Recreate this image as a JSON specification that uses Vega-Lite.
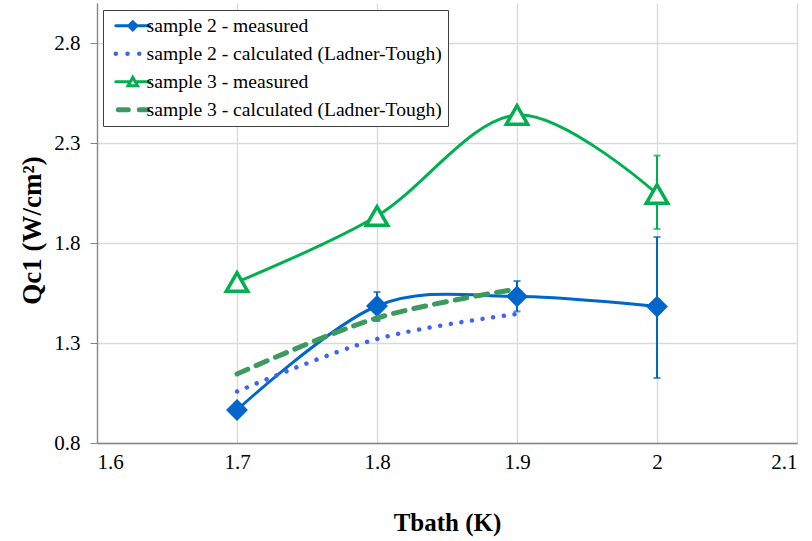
{
  "$schema": "https://vega.github.io/schema/vega-lite/v6.json",
  "width": 700,
  "height": 440,
  "autosize": {"type": "none"},
  "padding": {"left": 97, "top": 3, "right": 15, "bottom": 98},
  "background": "white",
  "config": {
    "view": {"stroke": null},
    "font": "Liberation Serif",
    "axis": {"labelFont": "Liberation Serif", "titleFont": "Liberation Serif", "labelColor": "#000", "titleColor": "#000", "gridColor": "#D9D9D9", "gridWidth": 1.3, "domainColor": "#868686", "domainWidth": 1.3, "tickColor": "#868686"}
  },
  "datasets": {
    "pts": [
      {"series": "sample 2 - measured", "T": 1.7, "Q": 0.965, "lo": null, "hi": null},
      {"series": "sample 2 - measured", "T": 1.8, "Q": 1.485, "lo": 1.41, "hi": 1.555},
      {"series": "sample 2 - measured", "T": 1.9, "Q": 1.533, "lo": 1.458, "hi": 1.61},
      {"series": "sample 2 - measured", "T": 2.0, "Q": 1.482, "lo": 1.125, "hi": 1.83},
      {"series": "sample 2 - calculated (Ladner-Tough)", "T": 1.7, "Q": 1.057, "lo": null, "hi": null},
      {"series": "sample 2 - calculated (Ladner-Tough)", "T": 1.8, "Q": 1.32, "lo": null, "hi": null},
      {"series": "sample 2 - calculated (Ladner-Tough)", "T": 1.9, "Q": 1.445, "lo": null, "hi": null},
      {"series": "sample 3 - measured", "T": 1.7, "Q": 1.605, "lo": null, "hi": null},
      {"series": "sample 3 - measured", "T": 1.8, "Q": 1.935, "lo": null, "hi": null},
      {"series": "sample 3 - measured", "T": 1.9, "Q": 2.44, "lo": null, "hi": null},
      {"series": "sample 3 - measured", "T": 2.0, "Q": 2.045, "lo": 1.87, "hi": 2.237},
      {"series": "sample 3 - calculated (Ladner-Tough)", "T": 1.7, "Q": 1.145, "lo": null, "hi": null},
      {"series": "sample 3 - calculated (Ladner-Tough)", "T": 1.8, "Q": 1.425, "lo": null, "hi": null},
      {"series": "sample 3 - calculated (Ladner-Tough)", "T": 1.9, "Q": 1.57, "lo": null, "hi": null}
    ]
  },
  "data": {"name": "pts"},
  "encoding": {
    "x": {"field": "T", "type": "quantitative", "scale": {"domain": [1.6, 2.1], "nice": false, "zero": false},
      "axis": {"values": [1.6, 1.7, 1.8, 1.9, 2.0, 2.1], "format": "~g", "ticks": false, "labelFontSize": 21, "labelPadding": 8, "title": "Tbath (K)", "titleFontSize": 25, "titleFontWeight": "bold", "titleX": 350, "titleY": 79, "titleBaseline": "middle", "titleAlign": "center"}},
    "y": {"field": "Q", "type": "quantitative", "scale": {"domain": [0.8, 3.0], "nice": false, "zero": false},
      "axis": {"values": [0.8, 1.3, 1.8, 2.3, 2.8], "format": ".1f", "tickSize": 7, "labelFontSize": 21, "labelPadding": 10, "title": "Qc1 (W/cm²)", "titleFontSize": 27, "titleFontWeight": "bold", "titleX": -65, "titleY": 227, "titleBaseline": "middle", "titleAlign": "center", "titleAngle": -90}}
  },
  "layer": [
    {
      "transform": [{"filter": "datum.series == 'sample 2 - measured' && datum.lo != null"}],
      "mark": {"type": "rule", "color": "#0066CC", "strokeWidth": 2},
      "encoding": {"y": {"field": "lo", "type": "quantitative"}, "y2": {"field": "hi"}}
    },
    {
      "transform": [{"filter": "datum.series == 'sample 2 - measured' && datum.lo != null"}],
      "mark": {"type": "tick", "orient": "horizontal", "color": "#0066CC", "size": 7, "thickness": 2},
      "encoding": {"y": {"field": "lo", "type": "quantitative"}}
    },
    {
      "transform": [{"filter": "datum.series == 'sample 2 - measured' && datum.lo != null"}],
      "mark": {"type": "tick", "orient": "horizontal", "color": "#0066CC", "size": 7, "thickness": 2},
      "encoding": {"y": {"field": "hi", "type": "quantitative"}}
    },
    {
      "transform": [{"filter": "datum.series == 'sample 2 - measured'"}],
      "mark": {"type": "line", "interpolate": "cardinal", "strokeWidth": 3},
      "encoding": {
        "color": {"field": "series", "type": "nominal",
          "scale": {"domain": ["sample 2 - measured", "sample 2 - calculated (Ladner-Tough)", "sample 3 - measured", "sample 3 - calculated (Ladner-Tough)"], "range": ["#0066CC", "#3F63F5", "#00B050", "#3D9A5F"]},
          "legend": {
            "title": null, "orient": "none", "legendX": 6, "legendY": 7,
            "padding": 6, "fillColor": "white", "strokeColor": "#404040",
            "labelFont": "Liberation Serif", "labelFontSize": 19.6, "labelColor": "#000",
            "symbolSize": 100, "symbolOffset": 14, "labelOffset": 4, "rowPadding": 7, "labelLimit": 400,
            "encode": {
              "symbols": {
                "update": {
                  "shape": {"signal": "datum.value == 'sample 2 - measured' ? 'M-3.4,0L3.4,0M0,-0.8L0.8,0L0,0.8L-0.8,0Z' : datum.value == 'sample 3 - measured' ? 'M-3.4,0L-0.5,0M0.5,0L3.4,0M0,-0.9L0.95,0.8L-0.95,0.8Z' : datum.value == 'sample 2 - calculated (Ladner-Tough)' ? 'M-3.4,0L1.4,0' : 'M-2.9,0L3.0,0'"},
                  "fill": {"signal": "datum.value == 'sample 2 - measured' ? '#0066CC' : datum.value == 'sample 3 - measured' ? 'white' : 'transparent'"},
                  "strokeWidth": {"signal": "datum.value == 'sample 2 - calculated (Ladner-Tough)' ? 4.5 : datum.value == 'sample 3 - calculated (Ladner-Tough)' ? 5 : 3"},
                  "strokeDash": {"signal": "datum.value == 'sample 2 - calculated (Ladner-Tough)' ? [0.01, 11.7] : datum.value == 'sample 3 - calculated (Ladner-Tough)' ? [10, 11] : [1, 0]"},
                  "strokeCap": {"value": "round"},
                  "opacity": {"value": 1}
                }
              }
            }
          }
        }
      }
    },
    {
      "transform": [{"filter": "datum.series == 'sample 2 - measured'"}],
      "mark": {"type": "point", "shape": "diamond", "filled": true, "size": 480, "color": "#0066CC", "opacity": 1}
    },
    {
      "transform": [{"filter": "datum.series == 'sample 2 - calculated (Ladner-Tough)'"}],
      "mark": {"type": "line", "interpolate": "cardinal", "strokeWidth": 4.5, "strokeDash": [0.01, 10.7], "strokeCap": "round"},
      "encoding": {"color": {"field": "series", "type": "nominal"}}
    },
    {
      "transform": [{"filter": "datum.series == 'sample 3 - measured' && datum.lo != null"}],
      "mark": {"type": "rule", "color": "#00B050", "strokeWidth": 2},
      "encoding": {"y": {"field": "lo", "type": "quantitative"}, "y2": {"field": "hi"}}
    },
    {
      "transform": [{"filter": "datum.series == 'sample 3 - measured' && datum.lo != null"}],
      "mark": {"type": "tick", "orient": "horizontal", "color": "#00B050", "size": 7, "thickness": 2},
      "encoding": {"y": {"field": "lo", "type": "quantitative"}}
    },
    {
      "transform": [{"filter": "datum.series == 'sample 3 - measured' && datum.lo != null"}],
      "mark": {"type": "tick", "orient": "horizontal", "color": "#00B050", "size": 7, "thickness": 2},
      "encoding": {"y": {"field": "hi", "type": "quantitative"}}
    },
    {
      "transform": [{"filter": "datum.series == 'sample 3 - measured'"}],
      "mark": {"type": "line", "interpolate": "cardinal", "strokeWidth": 3},
      "encoding": {"color": {"field": "series", "type": "nominal"}}
    },
    {
      "transform": [{"filter": "datum.series == 'sample 3 - measured'"}],
      "mark": {"type": "point", "shape": "triangle-up", "filled": false, "fill": "white", "fillOpacity": 1, "size": 460, "stroke": "#00B050", "strokeWidth": 3.5, "opacity": 1}
    },
    {
      "transform": [{"filter": "datum.series == 'sample 3 - calculated (Ladner-Tough)'"}],
      "mark": {"type": "line", "interpolate": "cardinal", "strokeWidth": 5, "strokeDash": [12, 9], "strokeCap": "round"},
      "encoding": {"color": {"field": "series", "type": "nominal"}}
    }
  ]
}
